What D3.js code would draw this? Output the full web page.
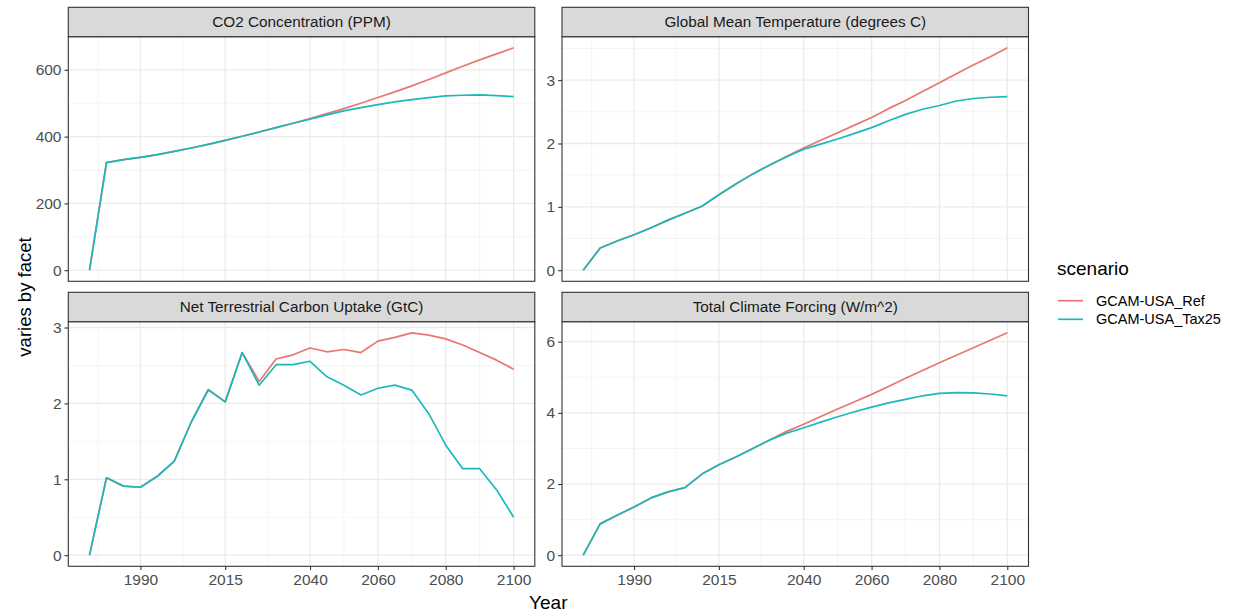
<!DOCTYPE html>
<html>
<head>
<meta charset="utf-8">
<script src="https://cdn.jsdelivr.net/npm/d3@7"></script>
<style>
  body { margin: 0; background: #fff; }
  svg { display: block; font-family: "Liberation Sans", Arial, sans-serif; }
</style>
</head>
<body>
<svg id="chart" width="1239" height="613"></svg>
<script>
// data
var years = [1975, 1980, 1985, 1990, 1995, 2000, 2005, 2010, 2015, 2020, 2025, 2030, 2035,
  2040, 2045, 2050, 2055, 2060, 2065, 2070, 2075, 2080, 2085, 2090, 2095, 2100];
var scenarios = ["GCAM-USA_Ref", "GCAM-USA_Tax25"];
var colors = ["#E8776F", "#1DB8BC"];
var xTicks = [1990, 2015, 2040, 2060, 2080, 2100];
var xMinor = [1977.5, 2002.5, 2027.5, 2050, 2070, 2090];

var co2Ref = [0, 322, 331, 338, 346, 356, 366, 377, 389, 401, 414, 427, 440,
  454, 469, 484, 500, 517, 534, 552, 571, 591, 611, 630, 648, 666];
var co2Tax = [0, 322, 331, 338, 346, 356, 366, 377, 389, 401, 414, 427, 440,
  452, 465, 477, 487, 496, 504, 511, 517, 522, 524, 525, 523, 520];
var tempRef = [0, 0.35, 0.46, 0.56, 0.67, 0.79, 0.90, 1.01, 1.19, 1.36, 1.52, 1.66, 1.80,
  1.93, 2.05, 2.17, 2.29, 2.41, 2.55, 2.68, 2.82, 2.96, 3.10, 3.24, 3.37, 3.51];
var tempTax = [0, 0.35, 0.46, 0.56, 0.67, 0.79, 0.90, 1.01, 1.19, 1.36, 1.52, 1.66, 1.79,
  1.91, 1.99, 2.07, 2.16, 2.25, 2.36, 2.46, 2.54, 2.60, 2.67, 2.71, 2.73, 2.74];
var landRef = [0, 1.02, 0.91, 0.895, 1.04, 1.24, 1.755, 2.18, 2.02, 2.67, 2.29, 2.585, 2.64,
  2.73, 2.68, 2.71, 2.67, 2.82, 2.87, 2.93, 2.90, 2.85, 2.77, 2.67, 2.57, 2.45];
var landTax = [0, 1.02, 0.91, 0.895, 1.04, 1.24, 1.755, 2.18, 2.02, 2.67, 2.24, 2.51, 2.51,
  2.555, 2.35, 2.24, 2.11, 2.20, 2.24, 2.175, 1.865, 1.45, 1.14, 1.14, 0.86, 0.50];
var forcRef = [0, 0.88, 1.12, 1.355, 1.61, 1.78, 1.90, 2.28, 2.54, 2.76, 3.00, 3.24, 3.48,
  3.68, 3.90, 4.11, 4.31, 4.52, 4.74, 4.97, 5.19, 5.41, 5.62, 5.83, 6.04, 6.25];
var forcTax = [0, 0.88, 1.12, 1.355, 1.61, 1.78, 1.90, 2.28, 2.54, 2.76, 3.00, 3.24, 3.43,
  3.58, 3.74, 3.89, 4.03, 4.16, 4.28, 4.38, 4.48, 4.55, 4.57, 4.56, 4.53, 4.48];

var titles = ["CO2 Concentration (PPM)", "Global Mean Temperature (degrees C)",
  "Net Terrestrial Carbon Uptake (GtC)", "Total Climate Forcing (W/m^2)"];
var yTicks = [[0, 200, 400, 600], [0, 1, 2, 3], [0, 1, 2, 3], [0, 2, 4, 6]];
var yMinor = [[100, 300, 500], [0.5, 1.5, 2.5, 3.5], [0.5, 1.5, 2.5], [1, 3, 5]];

var panels = [
  { series: [co2Ref, co2Tax], col: 0, row: 0 },
  { series: [tempRef, tempTax], col: 1, row: 0 },
  { series: [landRef, landTax], col: 0, row: 1 },
  { series: [forcRef, forcTax], col: 1, row: 1 }
];

var svg = d3.select("#chart");
var colX = [68.3, 562];
var panelW = 466.5;
var rowTop = [7.3, 292.3];
var stripH = 29.4;
var plotH = 244.6;
var tickFont = "15.5px";

// ggplot-ish expanded x range
var x0 = 1975, x1 = 2100, xpad = (x1 - x0) * 0.05;

panels.forEach(function(p, i) {
  var left = colX[p.col];
  var top = rowTop[p.row] + stripH;
  var g = svg.append("g").attr("transform", "translate(" + left + "," + top + ")");

  var x = d3.scaleLinear().domain([x0 - xpad, x1 + xpad]).range([0, panelW]);
  var ymax = d3.max(p.series, function(s) { return d3.max(s); });
  var ypad = ymax * 0.05;
  var y = d3.scaleLinear().domain([-ypad, ymax + ypad]).range([plotH, 0]);

  // grid
  g.selectAll(".ymin").data(yMinor[i].filter(function(v) { return v < ymax + ypad; }))
    .enter().append("line")
    .attr("x1", 0).attr("x2", panelW)
    .attr("y1", y).attr("y2", y)
    .attr("stroke", "#F2F2F2").attr("stroke-width", 0.8);
  g.selectAll(".xmin").data(xMinor).enter().append("line")
    .attr("x1", x).attr("x2", x)
    .attr("y1", 0).attr("y2", plotH)
    .attr("stroke", "#F2F2F2").attr("stroke-width", 0.8);
  g.selectAll(".ymaj").data(yTicks[i]).enter().append("line")
    .attr("x1", 0).attr("x2", panelW)
    .attr("y1", y).attr("y2", y)
    .attr("stroke", "#EBEBEB").attr("stroke-width", 1.3);
  g.selectAll(".xmaj").data(xTicks).enter().append("line")
    .attr("x1", x).attr("x2", x)
    .attr("y1", 0).attr("y2", plotH)
    .attr("stroke", "#EBEBEB").attr("stroke-width", 1.3);

  // lines, Ref first then Tax on top
  var line = d3.line()
    .x(function(d, k) { return x(years[k]); })
    .y(function(d) { return y(d); });
  p.series.forEach(function(s, k) {
    g.append("path").datum(s)
      .attr("d", line)
      .attr("fill", "none")
      .attr("stroke", colors[k])
      .attr("stroke-width", 1.7)
      .attr("stroke-linejoin", "round");
  });

  // panel border
  g.append("rect").attr("x", 0).attr("y", 0).attr("width", panelW).attr("height", plotH)
    .attr("fill", "none").attr("stroke", "#333333").attr("stroke-width", 1.1);

  // y axis
  var yAxis = g.append("g")
    .call(d3.axisLeft(y).tickValues(yTicks[i]).tickFormat(d3.format("~g")).tickSize(3.8).tickPadding(3));
  yAxis.select(".domain").remove();
  yAxis.selectAll(".tick line").attr("stroke", "#333333").attr("stroke-width", 1.1);
  yAxis.selectAll(".tick text").attr("fill", "#4D4D4D").style("font-size", tickFont)
    .style("font-family", "Liberation Sans, Arial, sans-serif");

  // x axis on bottom row only
  if (p.row === 1) {
    var xAxis = g.append("g").attr("transform", "translate(0," + plotH + ")")
      .call(d3.axisBottom(x).tickValues(xTicks).tickFormat(d3.format("d")).tickSize(3.8).tickPadding(4));
    xAxis.select(".domain").remove();
    xAxis.selectAll(".tick line").attr("stroke", "#333333").attr("stroke-width", 1.1);
    xAxis.selectAll(".tick text").attr("fill", "#4D4D4D").style("font-size", tickFont)
      .style("font-family", "Liberation Sans, Arial, sans-serif");
  }

  // strip
  var strip = svg.append("g").attr("transform", "translate(" + left + "," + rowTop[p.row] + ")");
  strip.append("rect").attr("width", panelW).attr("height", stripH)
    .attr("fill", "#D9D9D9").attr("stroke", "#333333").attr("stroke-width", 1.1);
  strip.append("text").attr("x", panelW / 2).attr("y", stripH / 2 + 5.5)
    .attr("text-anchor", "middle").attr("fill", "#1A1A1A")
    .style("font-size", "15.3px").text(titles[i]);
});

// axis titles
svg.append("text").attr("x", 548.3).attr("y", 609)
  .attr("text-anchor", "middle").style("font-size", "19px").attr("fill", "#000")
  .text("Year");
svg.append("text")
  .attr("transform", "translate(31,297) rotate(-90)")
  .attr("text-anchor", "middle").style("font-size", "18.5px").attr("fill", "#000")
  .text("varies by facet");

// legend
var legend = svg.append("g").attr("transform", "translate(1057,0)");
legend.append("text").attr("x", 0).attr("y", 275)
  .style("font-size", "19px").attr("fill", "#000").text("scenario");
scenarios.forEach(function(name, k) {
  var ly = 300.7 + k * 18.6;
  legend.append("line").attr("x1", 1).attr("x2", 26).attr("y1", ly).attr("y2", ly)
    .attr("stroke", colors[k]).attr("stroke-width", 1.7);
  legend.append("text").attr("x", 39).attr("y", ly + 5)
    .style("font-size", "14.5px").attr("fill", "#000").text(name);
});
</script>
</body>
</html>
